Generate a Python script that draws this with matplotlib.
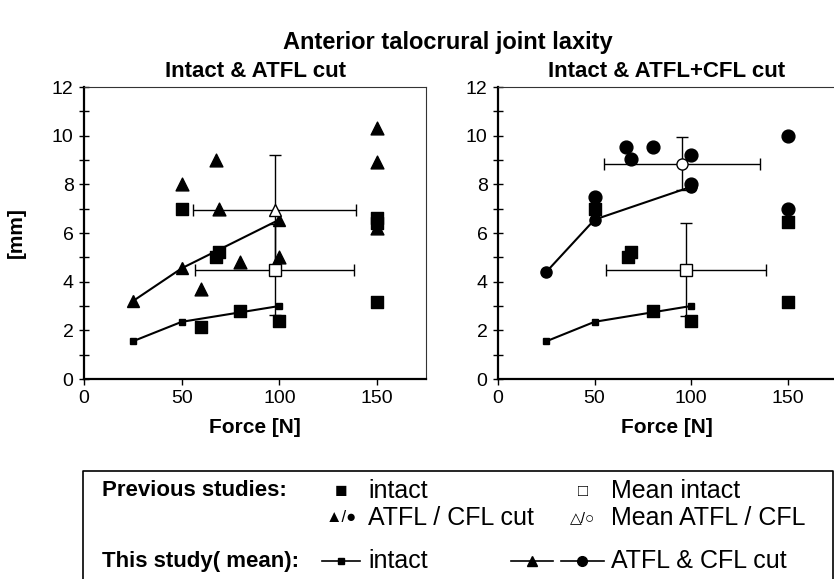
import matplotlib.pyplot as plt
from matplotlib.ticker import MultipleLocator

plt.rcParams['font.family'] = ['Liberation Sans', 'DejaVu Sans']

# This study (mean curves)
force_study = [25, 50, 100]
intact_study = [1.55, 2.35, 3.0]
atfl_study = [3.2, 4.55, 6.55]
atfl_cfl_study = [4.4, 6.55, 7.9]

# Previous studies - left panel (intact & ATFL cut)
prev_intact_l_x = [50, 60, 67.5, 69, 80, 100, 150, 150, 150]
prev_intact_l_y = [7.0, 2.15, 5.0, 5.2, 2.8, 2.4, 3.15, 6.6, 6.4]
prev_atfl_x = [50, 60, 67.5, 69, 80, 100, 150, 150, 150]
prev_atfl_y = [8.0, 3.7, 9.0, 7.0, 4.8, 5.0, 10.3, 8.9, 6.2]

# Previous studies - right panel (intact & ATFL+CFL cut)
prev_intact_r_x = [50, 67.5, 69, 80, 100, 150, 150]
prev_intact_r_y = [7.0, 5.0, 5.2, 2.8, 2.4, 6.45, 3.15]
prev_cfl_x = [50, 66.5, 69, 80, 100, 100, 150, 150]
prev_cfl_y = [7.5, 9.55, 9.05, 9.55, 9.2, 8.0, 10.0, 7.0]

# Means of previous studies: x, y, xerr, yerr
mean_intact_l = (97.5, 4.5, 40.5, 1.85)
mean_atfl_l = (97.5, 6.95, 41.5, 2.25)
mean_intact_r = (97.3, 4.5, 41.6, 1.9)
mean_cfl_r = (95.2, 8.85, 40.4, 1.1)

W, H = 834, 579


def px_rect(x0, y0, x1, y1):
    return [x0 / W, 1 - y1 / H, (x1 - x0) / W, (y1 - y0) / H]


fig = plt.figure(figsize=(W / 100, H / 100), dpi=100)
ax1 = fig.add_axes(px_rect(84, 87, 426, 379))
ax2 = fig.add_axes(px_rect(498, 87, 836, 379))


def style_axis(ax):
    ax.set_xlim(0, 175)
    ax.set_ylim(0, 12)
    ax.set_xticks([0, 50, 100, 150])
    ax.yaxis.set_major_locator(MultipleLocator(2))
    ax.yaxis.set_minor_locator(MultipleLocator(1))
    ax.tick_params(axis='y', which='both', direction='inout', length=7,
                   width=1, labelsize=14, pad=4)
    ax.tick_params(axis='x', direction='out', length=4, width=1,
                   labelsize=14, pad=4)
    for s in ['left', 'bottom']:
        ax.spines[s].set_linewidth(1.6)
    for s in ['top', 'right']:
        ax.spines[s].set_linewidth(0.8)
        ax.spines[s].set_color('#333333')
    ax.set_xlabel('Force [N]', fontsize=15, fontweight='bold', labelpad=8)


def draw_mean(ax, m, marker):
    ax.errorbar(m[0], m[1], xerr=m[2], yerr=m[3], fmt=marker, ms=8,
                mfc='white', mec='black', mew=1, ecolor='black',
                elinewidth=1, capsize=4, capthick=1, zorder=4)


# left panel
ax1.scatter(prev_intact_l_x, prev_intact_l_y, marker='s', s=75, c='black', zorder=2)
ax1.scatter(prev_atfl_x, prev_atfl_y, marker='^', s=85, c='black', zorder=2)
ax1.plot(force_study, intact_study, '-s', color='black', lw=1.5, ms=5, zorder=3)
ax1.plot(force_study, atfl_study, '-^', color='black', lw=1.5, ms=8, zorder=3)
draw_mean(ax1, mean_intact_l, 's')
draw_mean(ax1, mean_atfl_l, '^')

# right panel
ax2.scatter(prev_intact_r_x, prev_intact_r_y, marker='s', s=75, c='black', zorder=2)
ax2.scatter(prev_cfl_x, prev_cfl_y, marker='o', s=85, c='black', zorder=2)
ax2.plot(force_study, intact_study, '-s', color='black', lw=1.5, ms=5, zorder=3)
ax2.plot(force_study, atfl_cfl_study, '-o', color='black', lw=1.5, ms=8, zorder=3)
draw_mean(ax2, mean_intact_r, 's')
draw_mean(ax2, mean_cfl_r, 'o')

for ax in (ax1, ax2):
    style_axis(ax)
ax1.set_title('Intact & ATFL cut', fontsize=16, fontweight='bold', pad=7)
ax2.set_title('Intact & ATFL+CFL cut', fontsize=16, fontweight='bold', pad=7)
ax1.set_ylabel('[mm]', fontsize=15, fontweight='bold')
ax1.yaxis.set_label_coords((26 - 84) / 342, 0.5)

fig.text(448 / W, 1 - 43 / H, 'Anterior talocrural joint laxity', ha='center',
         va='center', fontsize=17, fontweight='bold')

# legend panel, drawn in pixel units
lax = fig.add_axes([0, 0, 1, 1], zorder=-1)
lax.set_xlim(0, W)
lax.set_ylim(H, 0)
lax.axis('off')
lax.plot([83, 83, 833, 833], [H, 471, 471, H], color='black', lw=1.2)

rows = [491, 518, 561]
head_x, sym1_x, txt1_x, sym2_x, txt2_x = 102, 341, 368, 583, 611
fs = 18
lax.text(head_x, rows[0], 'Previous studies:', fontsize=16, fontweight='bold', va='center')
lax.text(head_x, rows[2], 'This study( mean):', fontsize=16, fontweight='bold', va='center')
lax.text(sym1_x, rows[0], '■', fontsize=15, ha='center', va='center')
lax.text(txt1_x, rows[0], 'intact', fontsize=fs, va='center')
lax.text(sym2_x, rows[0], '□', fontsize=12, ha='center', va='center')
lax.text(txt2_x, rows[0], 'Mean intact', fontsize=fs, va='center')
lax.text(sym1_x, rows[1], '▲/●', fontsize=12, ha='center', va='center')
lax.text(txt1_x, rows[1], 'ATFL / CFL cut', fontsize=fs, va='center')
lax.text(sym2_x, rows[1], '△/○', fontsize=11, ha='center', va='center')
lax.text(txt2_x, rows[1], 'Mean ATFL / CFL', fontsize=fs, va='center')
lax.plot([sym1_x - 19, sym1_x, sym1_x + 19], [rows[2]] * 3, '-s', color='black',
         lw=1.2, ms=5, markevery=[1])
lax.text(txt1_x, rows[2], 'intact', fontsize=fs, va='center')
lax.plot([511, 532, 553], [rows[2]] * 3, '-^', color='black', lw=1.2, ms=7, markevery=[1])
lax.plot([561, 582, 604], [rows[2]] * 3, '-o', color='black', lw=1.2, ms=7, markevery=[1])
lax.text(txt2_x, rows[2], 'ATFL & CFL cut', fontsize=fs, va='center')

fig.savefig('out.png', dpi=100)
